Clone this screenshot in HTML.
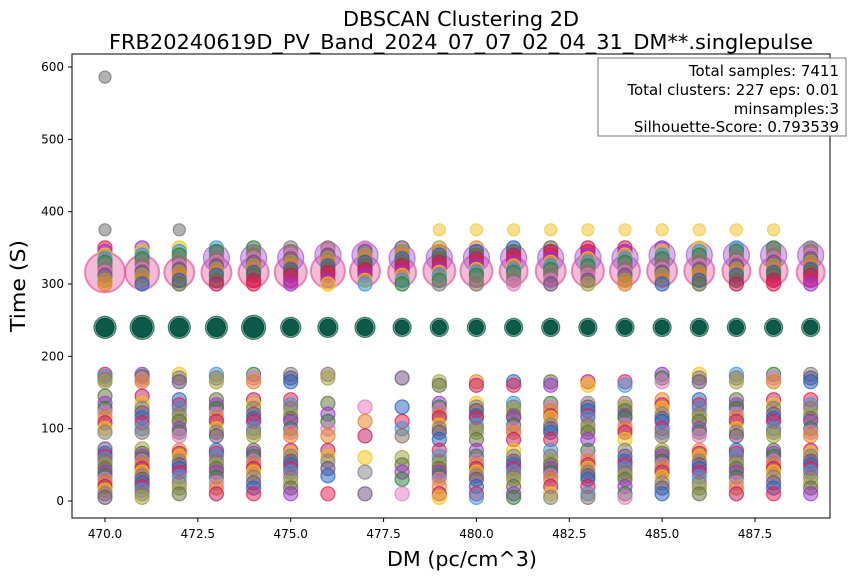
<!DOCTYPE html>
<html><head><meta charset="utf-8"><style>
body{margin:0;background:#fff;}
svg{display:block;font-family:"DejaVu Sans","Liberation Sans",sans-serif;}
</style></head><body>
<svg id="chart" width="856" height="578" viewBox="0 0 856 578">
<text x="461" y="26" text-anchor="middle" font-size="20" textLength="236" lengthAdjust="spacingAndGlyphs">DBSCAN Clustering 2D</text>
<text x="461" y="49" text-anchor="middle" font-size="20" textLength="704" lengthAdjust="spacingAndGlyphs">FRB20240619D_PV_Band_2024_07_07_02_04_31_DM**.singlepulse</text>
<g id="marks"></g>
<rect x="72" y="54" width="758" height="464" fill="none" stroke="#000" stroke-width="1"/>
<g id="axes"></g>
<text x="462" y="566" text-anchor="middle" font-size="20" textLength="150" lengthAdjust="spacingAndGlyphs">DM (pc/cm^3)</text>
<text transform="translate(25,286) rotate(-90)" text-anchor="middle" font-size="20" textLength="92" lengthAdjust="spacingAndGlyphs">Time (S)</text>
<g>
<rect x="598" y="58" width="248" height="78" fill="#fff" fill-opacity="0.85" stroke="#777" stroke-width="1"/>
<text x="839" y="76" text-anchor="end" font-size="15">Total samples: 7411</text>
<text x="839" y="95" text-anchor="end" font-size="15">Total clusters: 227 eps: 0.01</text>
<text x="839" y="114" text-anchor="end" font-size="15">minsamples:3</text>
<text x="839" y="132" text-anchor="end" font-size="15">Silhouette-Score: 0.793539</text>
</g>
</svg>
<script>
const dms=[470,471,472,473,474,475,476,477,478,479,480,481,482,483,484,485,486,487,488,489];
const bigTimes=[316,316,316,316,316,316,318,318,316,318,318,318,318,318,318,318,318,318,318,316];
const bigRadii=[20,17,15,15,15,16,17,15,14,16,16,14,15,16,15,15,15,14,14,14];
const haloTimes=[0,0,0,336,336,336,340,340,336,336,336,336,336,336,336,340,340,340,340,340];
const greenTimes=[240,240,240,240,240,240,240,240,240,240,240,240,240,240,240,240,240,240,240,240];
const greenRadii=[11,12,11,11,12,10,10,10,9,9,9,9,9,9,9,9,9,9,9,9];
const outlierDM=[470,470,472,479,480,481,482,483,484,485,486,487,488];
const outlierTime=[586,375,375,375,375,375,375,375,375,375,375,375,375];
const upperTimes=[350,345,340,335,330,325,320,316,312,305,300];
const lowA=[175,172,168,165,145,135,128,122,115,108,100,95,72,66,62,58,55,50,45,40,35,30,25,20,15,10,5];
const lowB=[175,170,165,140,133,128,120,114,110,100,95,90,70,66,62,55,50,45,40,33,25,18,10];
const lowC=[165,160,135,130,125,118,115,105,100,95,85,70,62,55,50,45,40,35,30,20,10,5];
const lowD=[130,110,90,60,40,10];
const colLow=[lowA,lowA,lowB,lowB,lowB,lowB,[175,170,135,120,110,100,90,70,62,55,45,35,10],lowD,[170,130,110,100,90,60,50,40,30,10],lowC,lowC,lowC,lowC,lowC,lowC,lowB,lowB,lowB,lowB,lowB];
const pal=["#e6194b","#9b30d0","#f1c40f","#3498db","#2e7d32","#7f7f7f","#8d6e63","#e377c2","#6b4c7a","#a0a040","#e67e22","#1f5fbf","#5d6d3a","#c2185b"];
const px=d=>105+(d-470)*37.143;
const py=t=>501-t*0.7233;
const g=document.getElementById('marks');
const NS="http://www.w3.org/2000/svg";
function dot(x,y,r,c,op,name,sw){const e=document.createElementNS(NS,'circle');
e.setAttribute('cx',x.toFixed(1));e.setAttribute('cy',y.toFixed(1));e.setAttribute('r',r);
e.setAttribute('fill',c);e.setAttribute('fill-opacity',op);e.setAttribute('stroke',c);e.setAttribute('stroke-opacity',Math.min(1,op+0.25));
e.setAttribute('stroke-width',sw||1.2);


g.appendChild(e);}
dms.forEach((d,i)=>{
 dot(px(d),py(bigTimes[i]),bigRadii[i],"#e0559a",0.4,'big-cluster-point',2);
 if(haloTimes[i]) dot(px(d),py(haloTimes[i]),13,"#a855d6",0.45,'halo-cluster-point');
 dot(px(d),py(greenTimes[i]),greenRadii[i],"#00513d",0.45,'green-cluster-point');
 dot(px(d),py(greenTimes[i]),greenRadii[i]-2,"#00513d",0.9,'green-cluster-core');
 upperTimes.forEach((t,j)=>dot(px(d),py(t),7,pal[(j+i)%pal.length],0.55,'upper-cluster-point'));
 colLow[i].forEach((t,j)=>dot(px(d),py(t),7,pal[(j*3+i)%pal.length],0.5,'low-cluster-point'));
});
outlierDM.forEach((d,i)=>dot(px(d),py(outlierTime[i]),6,i<3?"#7f7f7f":"#f7c948",0.6,'outlier-point'));
const ax=document.getElementById('axes');
const xt=[470,472.5,475,477.5,480,482.5,485,487.5];
const yt=[0,100,200,300,400,500,600];
xt.forEach(v=>{const x=px(v);
 const l=document.createElementNS(NS,'line');l.setAttribute('x1',x);l.setAttribute('x2',x);l.setAttribute('y1',518);l.setAttribute('y2',522);l.setAttribute('stroke','#000');
 
 ax.appendChild(l);
 const t=document.createElementNS(NS,'text');t.setAttribute('x',x);t.setAttribute('y',538);t.setAttribute('text-anchor','middle');t.setAttribute('font-size','12');t.textContent=v.toFixed(1);
 
 ax.appendChild(t);});
yt.forEach(v=>{const y=py(v);
 const l=document.createElementNS(NS,'line');l.setAttribute('x1',68);l.setAttribute('x2',72);l.setAttribute('y1',y);l.setAttribute('y2',y);l.setAttribute('stroke','#000');
 
 ax.appendChild(l);
 const t=document.createElementNS(NS,'text');t.setAttribute('x',64);t.setAttribute('y',y+4);t.setAttribute('text-anchor','end');t.setAttribute('font-size','12');t.textContent=v;
 
 ax.appendChild(t);});
</script>
</body></html>
